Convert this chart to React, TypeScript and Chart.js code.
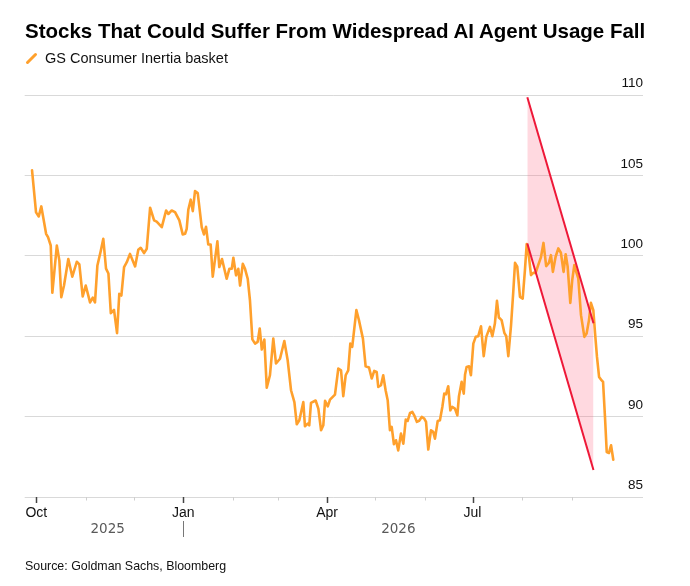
import React, { useEffect, useRef } from "react";
import { Chart, registerables } from "chart.js";

Chart.register(...registerables);

const TITLE = "Stocks That Could Suffer From Widespread AI Agent Usage Fall";
const SERIES_LABEL = "GS Consumer Inertia basket";
const SOURCE = "Source: Goldman Sachs, Bloomberg";

// x values are days counted from 1 Oct 2025
const monthTickDays = [0, 31, 61, 92, 123, 151, 182, 212, 243, 273, 304, 335];
const monthTickLabels = ["Oct", "", "", "Jan", "", "", "Apr", "", "", "Jul", "", ""];
const yearLabels = ["2025", "2026"];
const yearBoundaryDay = 92;
const yTicks = [85, 90, 95, 100, 105, 110];

const days = [
  -2.7, -0.2, 1.5, 3.1, 6.1, 7.3, 9.0, 10.0, 12.8, 14.4,
  15.6, 17.3, 20.0, 22.5, 25.3, 26.9, 29.0, 30.9, 33.6, 35.3,
  36.7, 38.2, 40.3, 41.9, 43.6, 45.1, 46.6, 48.6, 50.5, 51.9,
  53.2, 54.9, 56.6, 58.6, 61.8, 63.8, 65.3, 67.4, 69.1, 71.2,
  73.7, 75.3, 78.5, 81.2, 82.6, 84.7, 86.8, 89.5, 91.6, 93.1,
  94.1, 95.1, 96.6, 97.9, 99.3, 101.0, 103.5, 104.9, 106.2, 107.6,
  109.1, 110.4, 113.3, 114.5, 116.2, 119.1, 120.8, 122.3, 123.3, 125.0,
  126.4, 127.5, 129.2, 130.6, 132.3, 133.7, 135.2,
  136.9, 138.5, 139.8, 141.1, 142.7, 144.2, 146.2, 148.3, 150.0, 152.5,
  155.2, 157.3, 159.4, 161.5, 163.0, 164.6, 167.1, 168.1, 169.8, 170.8,
  171.9, 174.8, 176.5, 178.2, 179.6, 180.7, 182.4, 183.8, 186.9, 189.0,
  190.7, 192.1, 193.6, 195.2, 196.5, 197.7,
  200.3, 201.9, 204.4, 206.1, 208.2, 209.9, 211.5, 213.0, 214.0, 215.7,
  217.1, 218.6, 219.9, 221.3, 222.4, 223.8, 225.1, 226.5, 228.2, 229.7,
  231.2, 232.4, 233.9, 235.3, 236.5, 238.2, 239.5, 241.2, 242.8, 243.9,
  245.3, 247.0, 248.4, 249.5, 251.2, 252.6, 254.1, 255.3, 256.4, 257.8,
  259.1, 260.3, 262.0, 263.5, 264.5, 266.2, 267.5, 268.3,
  269.3, 270.8, 272.0, 273.5, 275.0, 276.6, 278.3, 280.0, 281.6, 283.9,
  285.4, 287.0, 288.3, 289.5, 291.2, 292.9, 294.1, 295.4, 297.1, 298.5,
  299.6, 301.0, 302.7, 304.4, 305.8, 306.9, 308.3, 309.6, 311.0, 312.5,
  314.1, 315.8, 317.4,
  319.1, 320.8, 322.1, 323.3, 325.0, 326.7, 328.3, 330.0, 331.3, 332.5,
  334.2, 335.4, 336.7, 337.9, 339.2, 340.9, 343.0, 344.4, 345.9, 347.1,
  348.6, 349.7, 350.9, 352.2, 353.4, 354.7, 355.9, 357.0, 358.4, 359.7,
  361.1,
];

const basket = [
  105.31, 102.7, 102.45, 103.07, 101.37, 101.16, 100.64, 97.7, 100.64, 99.7,
  97.43, 98.15, 99.8, 98.7, 99.63, 99.46, 97.47, 98.15, 97.1, 97.4,
  97.1, 99.4, 100.3, 101.06, 99.2, 98.9, 96.43, 96.64, 95.19, 97.63,
  97.53, 99.3, 99.6, 100.12, 99.34, 100.37, 100.5, 100.17, 100.44, 102.99,
  102.2, 102.12, 101.78, 102.82, 102.6, 102.82, 102.72, 102.2, 101.33, 101.37,
  101.68, 102.86, 103.49, 102.78, 104.02, 103.9, 101.78, 101.33, 101.8, 100.7,
  100.7, 98.7, 100.9, 99.3, 99.8, 98.57, 99.19, 99.19, 99.88, 98.78,
  99.19, 98.15, 99.5, 99.19, 98.57, 97.22, 94.8,
  94.54, 94.65, 95.48, 94.17, 94.79, 91.8, 92.57, 94.85, 93.3, 93.6,
  94.7, 93.5, 91.64, 90.9, 89.52, 89.77, 90.9, 89.4, 89.56, 89.46,
  90.85, 91.0, 90.5, 89.15, 89.46, 90.98, 90.64, 91.06, 91.37, 92.99,
  92.88, 91.27, 92.57, 92.88, 94.54, 94.34,
  96.62, 96.0, 94.85, 93.13, 93.05, 92.37, 92.84, 92.78, 91.85, 91.95,
  92.57, 91.64, 91.02, 89.15, 89.36, 88.28, 88.53, 87.9, 88.94, 88.32,
  89.81, 89.73, 90.23, 90.29, 90.08, 89.67, 89.73, 89.98, 89.88, 89.67,
  87.95, 89.15, 89.05, 88.63, 89.73, 89.77, 90.6, 91.43, 91.39, 91.89,
  90.39, 90.6, 90.5, 90.08, 91.27, 92.16, 91.43, 92.6,
  93.09, 93.13, 92.57, 94.54, 94.96, 95.0, 95.62, 93.76, 94.96, 95.58,
  95.0, 95.79, 97.2, 96.16, 96.0, 95.21, 95.0, 93.76, 95.68, 97.76,
  99.56, 99.32, 97.45, 97.34, 99.11, 100.73, 99.94, 98.8, 98.94, 98.94,
  99.42, 99.9, 100.8,
  99.36, 99.56, 100.04, 99.0, 99.94, 100.46, 100.19, 99.0, 100.1, 99.36,
  97.07, 98.49, 99.42, 99.0, 98.59, 96.31, 94.96, 95.17, 96.0, 97.07,
  96.62, 95.17, 93.71, 92.47, 92.3, 92.16, 89.98, 87.8, 87.74, 88.22,
  87.32,
];

const trendDays = [307.3, 348.7];
const upperTrend = [109.86, 95.8];
const lowerTrend = [100.76, 86.68];

const FONT = '"Liberation Sans", Arial, Helvetica, sans-serif';
const ORANGE = "#ffa02c";
const RED = "#ee1838";

const decorPlugin = {
  id: "decor",
  afterDraw(chart: any) {
    const ctx = chart.ctx;
    const xs = chart.scales.x;
    const ys = chart.scales.y;
    const area = chart.chartArea;
    ctx.save();

    // y-axis labels sitting above gridlines, right aligned
    ctx.font = `13.5px ${FONT}`;
    ctx.fillStyle = "#111";
    ctx.textAlign = "right";
    ctx.textBaseline = "middle";
    yTicks.forEach((v) => {
      ctx.fillText(String(v), area.right, ys.getPixelForValue(v) - 11.5);
    });

    // month tick marks
    monthTickDays.forEach((d, i) => {
      const px = Math.round(xs.getPixelForValue(d)) + 0.5;
      const major = monthTickLabels[i] !== "";
      ctx.strokeStyle = major ? "#444" : "#cfcfcf";
      ctx.lineWidth = major ? 1.5 : 1;
      ctx.beginPath();
      ctx.moveTo(px, area.bottom);
      ctx.lineTo(px, area.bottom + (major ? 6 : 3.5));
      ctx.stroke();
    });

    // year labels
    const first = xs.getPixelForValue(days[0]);
    const last = xs.getPixelForValue(days[days.length - 1]);
    const boundary = xs.getPixelForValue(yearBoundaryDay);
    ctx.font = `13.5px "DejaVu Sans", ${FONT}`;
    ctx.fillStyle = "#595959";
    ctx.textAlign = "center";
    ctx.textBaseline = "middle";
    ctx.fillText(yearLabels[0], (first + boundary) / 2, area.bottom + 32);
    ctx.fillText(yearLabels[1], (boundary + last) / 2, area.bottom + 32);

    const sx = Math.round(boundary) + 0.5;
    ctx.strokeStyle = "#777";
    ctx.lineWidth = 1;
    ctx.beginPath();
    ctx.moveTo(sx, area.bottom + 24);
    ctx.lineTo(sx, area.bottom + 40);
    ctx.stroke();

    // legend swatch
    ctx.strokeStyle = ORANGE;
    ctx.lineWidth = 3;
    ctx.lineCap = "round";
    ctx.beginPath();
    ctx.moveTo(27.5, 62.5);
    ctx.lineTo(35.5, 54.5);
    ctx.stroke();

    ctx.restore();
  },
};

export default function App() {
  const canvasRef = useRef<HTMLCanvasElement | null>(null);

  useEffect(() => {
    const canvas = canvasRef.current;
    if (!canvas) return;
    const chart = new Chart(canvas, {
      type: "line",
      data: {
        datasets: [
          {
            data: trendDays.map((d, i) => ({ x: d, y: upperTrend[i] })),
            borderColor: RED,
            borderWidth: 2,
            pointRadius: 0,
            fill: "+1",
            backgroundColor: "rgba(255, 95, 125, 0.24)",
          },
          {
            data: trendDays.map((d, i) => ({ x: d, y: lowerTrend[i] })),
            borderColor: RED,
            borderWidth: 2,
            pointRadius: 0,
            fill: false,
          },
          {
            label: SERIES_LABEL,
            data: days.map((d, i) => ({ x: d, y: basket[i] })),
            borderColor: ORANGE,
            borderWidth: 2.6,
            borderJoinStyle: "round",
            borderCapStyle: "round",
            pointRadius: 0,
            tension: 0,
            fill: false,
          },
        ],
      },
      options: {
        responsive: false,
        animation: false,
        layout: { padding: { top: 95, left: 24.7, right: 47, bottom: 0 } },
        plugins: {
          legend: { display: false },
          tooltip: { enabled: false },
          filler: { drawTime: "beforeDatasetsDraw" },
        },
        scales: {
          x: {
            type: "linear",
            min: -7.3,
            max: 379.7,
            afterBuildTicks: (scale: any) => {
              scale.ticks = monthTickDays.map((v) => ({ value: v }));
            },
            afterFit: (scale: any) => {
              scale.height = 89;
            },
            grid: { display: false, drawTicks: false },
            border: { display: false },
            ticks: {
              autoSkip: false,
              maxRotation: 0,
              padding: 8,
              color: "#111",
              font: { family: FONT, size: 14 },
              callback: (_v: any, index: number) => monthTickLabels[index] ?? "",
            },
          },
          y: {
            position: "right",
            min: 85,
            max: 110,
            afterBuildTicks: (scale: any) => {
              scale.ticks = yTicks.map((v) => ({ value: v }));
            },
            afterFit: (scale: any) => {
              scale.width = 0;
            },
            ticks: { display: false },
            grid: { color: "#d9d9d9", lineWidth: 1, drawTicks: false },
            border: { display: false },
          },
        },
      },
      plugins: [decorPlugin],
    } as any);
    return () => chart.destroy();
  }, []);

  return (
    <div
      style={{
        position: "absolute",
        left: 0,
        top: 0,
        width: 690,
        height: 586,
        background: "#fff",
        fontFamily: FONT,
        color: "#000",
      }}
    >
      <canvas
        ref={canvasRef}
        width={690}
        height={586}
        style={{ position: "absolute", left: 0, top: 0, width: 690, height: 586 }}
      />
      <div
        style={{
          position: "absolute",
          left: 25,
          top: 21,
          fontSize: 20.5,
          lineHeight: "20.5px",
          fontWeight: 700,
          whiteSpace: "nowrap",
        }}
      >
        {TITLE}
      </div>
      <div
        style={{
          position: "absolute",
          left: 45,
          top: 51.3,
          fontSize: 14.5,
          lineHeight: "14.5px",
          whiteSpace: "nowrap",
          color: "#111",
        }}
      >
        {SERIES_LABEL}
      </div>
      <div
        style={{
          position: "absolute",
          left: 25,
          top: 560.2,
          fontSize: 12.4,
          lineHeight: "12.4px",
          whiteSpace: "nowrap",
          color: "#111",
        }}
      >
        {SOURCE}
      </div>
    </div>
  );
}
